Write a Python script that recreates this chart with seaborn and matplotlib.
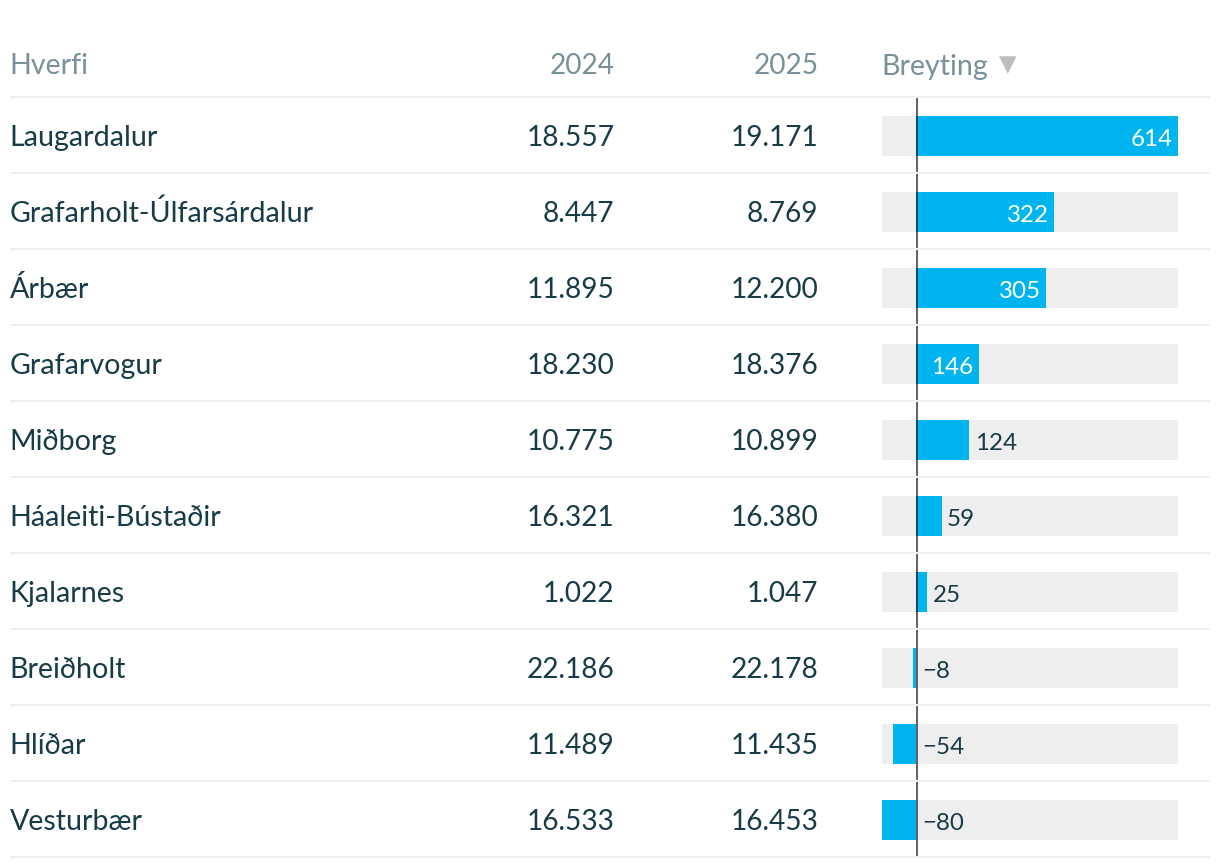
import matplotlib
matplotlib.use("Agg")
import matplotlib.pyplot as plt
from matplotlib.transforms import Affine2D, blended_transform_factory
import pandas as pd
import seaborn as sns

districts = ["Laugardalur", "Grafarholt-Úlfarsárdalur", "Árbær", "Grafarvogur", "Miðborg",
             "Háaleiti-Bústaðir", "Kjalarnes", "Breiðholt", "Hlíðar", "Vesturbær"]
y2024 = [18557, 8447, 11895, 18230, 10775, 16321, 1022, 22186, 11489, 16533]
y2025 = [19171, 8769, 12200, 18376, 10899, 16380, 1047, 22178, 11435, 16453]
change = [614, 322, 305, 146, 124, 59, 25, -8, -54, -80]
headers = ["Hverfi", "2024", "2025", "Breyting"]

W, H = 1220, 868
sns.set_theme(style="white")
plt.rcParams["font.family"] = ["Lato", "DejaVu Sans"]
INK = "#173b47"
HEAD = "#78919a"
RULE = "#efefef"
BLUE = "#00b5ef"
TRACK = "#eeeeee"
FS = 20.6
FS_NUM = 20.2
FS_BAR = 17.4
PT = 72 / 100

fig = plt.figure(figsize=(W / 100, H / 100), dpi=100, facecolor="white")
ax = fig.add_axes([882.3 / W, 1 - 858 / H, 295.7 / W, 760 / H])
df = pd.DataFrame({"district": districts, "change": change})
lo, hi = min(change), max(change)
bw = 40 / 76

ax.barh(range(len(districts)), [hi - lo] * len(districts), left=lo, height=bw, color=TRACK, lw=0, zorder=1)
sns.barplot(data=df, y="district", x="change", orient="h", order=districts, color=BLUE,
            saturation=1, width=bw, ax=ax, zorder=2, linewidth=0)
ax.set_xlim(lo, hi)
ax.set_ylim(len(districts) - 0.5, -0.5)
ax.axis("off")

px = Affine2D().scale(1 / W, -1 / H).translate(0, 1) + fig.transFigure
xpx_ydata = blended_transform_factory(px, ax.transData)
baseline = xpx_ydata + Affine2D().translate(0, -10)

# header
HY = 74.5
fig.text(9.5, HY, headers[0], transform=px, color=HEAD, fontsize=FS, ha="left", va="baseline")
fig.text(614.5, HY, headers[1], transform=px, color=HEAD, fontsize=FS_NUM, ha="right", va="baseline")
fig.text(818.5, HY, headers[2], transform=px, color=HEAD, fontsize=FS_NUM, ha="right", va="baseline")
fig.text(881.5, HY, headers[3], transform=px, color=HEAD, fontsize=FS, ha="left", va="baseline")
fig.text(1008, 65, "▼", transform=px, color="#bdbdbd", fontsize=16.5, ha="center", va="center",
         family="DejaVu Sans")


def fmt(v):
    return f"{v:,}".replace(",", ".")


rule_shift = 1 / 76
line_tf = ax.transData + Affine2D().translate(0.6, 0)
for i, name in enumerate(districts):
    ax.plot([10, 1210], [i + 0.5 - rule_shift] * 2, transform=xpx_ydata, color=RULE, lw=2 * PT,
            clip_on=False, zorder=0, solid_capstyle="butt")
    ax.text(9.5, i, name, transform=baseline, color=INK, fontsize=FS, ha="left", va="baseline", clip_on=False)
    ax.text(614.5, i, fmt(y2024[i]), transform=baseline, color=INK, fontsize=FS_NUM, ha="right", va="baseline", clip_on=False)
    ax.text(818.5, i, fmt(y2025[i]), transform=baseline, color=INK, fontsize=FS_NUM, ha="right", va="baseline", clip_on=False)
    ax.vlines(0, i - 0.5, i + 0.485 - rule_shift, color="black", alpha=0.6, lw=2 * PT, zorder=4, clip_on=False,
              transform=line_tf)
    v = change[i]
    label = f"{v}".replace("-", "\u2212")
    if v >= 140:
        ax.annotate(label, (v, i), xytext=(-5 * PT, -10 * PT), textcoords="offset points", color="white",
                    fontsize=FS_BAR, ha="right", va="baseline", zorder=5)
    else:
        ax.annotate(label, (max(v, 0), i), xytext=(5.5 * PT, -10 * PT), textcoords="offset points", color=INK,
                    fontsize=FS_BAR, ha="left", va="baseline", zorder=5)
ax.plot([10, 1210], [-0.5 - rule_shift] * 2, transform=xpx_ydata, color=RULE, lw=2 * PT, clip_on=False, zorder=0,
        solid_capstyle="butt")

fig.savefig("out.png", dpi=100, facecolor="white")
